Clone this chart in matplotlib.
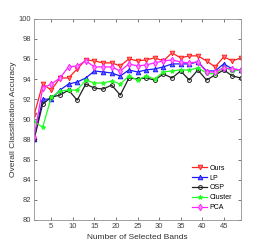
import matplotlib.pyplot as plt

bands = list(range(1, 50, 2))

ours = [90.4, 93.5, 92.9, 94.1, 94.1, 95.0, 95.9, 95.8, 95.6, 95.6, 95.3, 96.0, 95.8,
        95.9, 96.1, 95.8, 96.6, 96.1, 96.3, 96.3, 95.8, 95.2, 96.2, 95.8, 96.1]
lp = [88.0, 92.0, 92.0, 92.9, 93.5, 93.7, 94.1, 94.8, 94.7, 94.6, 94.3, 94.9, 94.7,
      94.9, 95.0, 95.2, 95.5, 95.5, 95.5, 95.7, 94.8, 94.8, 95.5, 95.0, 94.9]
osp = [88.0, 91.5, 92.2, 92.4, 92.9, 91.9, 93.5, 93.1, 93.0, 93.4, 92.4, 94.1, 94.0,
       94.1, 93.9, 94.5, 94.1, 94.8, 93.9, 94.9, 93.9, 94.4, 94.9, 94.3, 94.1]
cluster = [89.8, 89.2, 92.2, 92.8, 92.9, 92.9, 93.9, 93.6, 93.6, 93.8, 93.5, 94.3, 93.9,
           94.3, 94.0, 94.7, 94.8, 94.9, 94.9, 95.1, 94.6, 94.5, 95.2, 94.8, 94.9]
pca = [88.2, 93.1, 93.5, 94.1, 95.2, 95.3, 95.8, 95.2, 95.2, 95.2, 94.8, 95.5, 95.3,
       95.4, 95.6, 95.8, 95.9, 95.7, 95.6, 95.7, 94.7, 94.7, 95.1, 95.0, 94.9]

plt.rcParams['font.family'] = ['Liberation Sans', 'DejaVu Sans']

fig = plt.figure(figsize=(2.66, 2.48), dpi=100)
ax = fig.add_axes([0.128, 0.113, 0.778, 0.812])

ax.plot(bands, ours, color='#ff2020', marker='v', markersize=3.3, lw=0.9,
        mfc='#ff8080', mew=0.7, label='Ours')
ax.plot(bands, lp, color='#1a1aff', marker='^', markersize=3.3, lw=0.9,
        mfc='#6060ff', mew=0.7, label='LP')
ax.plot(bands, osp, color='#202020', marker='o', markersize=2.8, lw=0.9,
        mfc='none', mew=0.7, label='OSP')
ax.plot(bands, cluster, color='#20ff20', marker='*', markersize=3.3, lw=0.9,
        mew=0.7, label='Cluster')
ax.plot(bands, pca, color='#ff20ff', marker='d', markersize=3.3, lw=0.9,
        mfc='#ff90ff', mew=0.7, label='PCA')

ax.set_xlim(1, 49)
ax.set_ylim(80, 100)
ax.set_xticks(range(5, 50, 5))
ax.set_yticks(range(80, 101, 2))
ax.tick_params(direction='in', top=True, right=True, labelsize=5.5,
               length=2.5, width=0.5, colors='#404040', pad=2)
for s in ax.spines.values():
    s.set_linewidth(0.6)
    s.set_color('#909090')

ax.set_xlabel('Number of Selected Bands', fontsize=6, color='#303030', labelpad=3)
ax.set_ylabel('Overall Classification Accuracy', fontsize=6, color='#303030', labelpad=1)

ax.legend(loc='lower right', fontsize=5, frameon=False, handlelength=2.2,
          labelspacing=0.4, borderaxespad=0.9, handletextpad=0.3)

fig.savefig('out.png', dpi=100)
